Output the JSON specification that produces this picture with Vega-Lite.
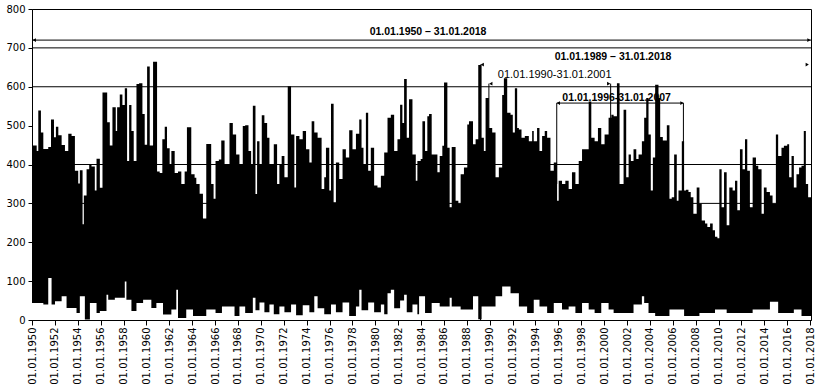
{
"$schema": "https://vega.github.io/schema/vega-lite/v6.json",
"width": 779, "height": 311,
"autosize": {"type": "none"},
"padding": {"left": 32, "top": 9, "right": 12, "bottom": 69},
"background": "white",
"config": {
  "view": {"stroke": "black", "strokeWidth": 1},
  "axis": {"domainColor": "black", "tickColor": "black", "labelColor": "black", "labelFont": "DejaVu Sans", "labelFontSize": 10, "grid": false, "zindex": 1, "domainWidth": 1, "tickWidth": 1},
  "axisX": {"labelOverlap": false, "labelFlush": false, "labelAngle": 270, "labelAlign": "right", "labelBaseline": "middle", "tickSize": 5, "labelPadding": 2, "labelBound": false},
  "axisY": {"labelOverlap": false, "tickSize": 4, "labelPadding": 3}
},
"datasets": {
  "grid": [{"v": 300}, {"v": 400}, {"v": 600}, {"v": 700}],
  "hi": [
    {"t":1950.00,"v":449},{"t":1950.41,"v":435},{"t":1950.55,"v":539},{"t":1950.78,"v":482},{"t":1950.99,"v":440},
    {"t":1951.42,"v":445},{"t":1951.66,"v":516},{"t":1951.92,"v":470},{"t":1952.09,"v":497},{"t":1952.30,"v":475},
    {"t":1952.59,"v":450},{"t":1952.88,"v":435},{"t":1953.17,"v":479},{"t":1953.46,"v":473},{"t":1953.75,"v":384},
    {"t":1954.04,"v":351},{"t":1954.18,"v":385},{"t":1954.42,"v":246},{"t":1954.53,"v":320},{"t":1954.77,"v":388},
    {"t":1955.00,"v":399},{"t":1955.20,"v":395},{"t":1955.49,"v":333},{"t":1955.64,"v":415},{"t":1955.93,"v":340},
    {"t":1956.16,"v":585},{"t":1956.57,"v":509},{"t":1956.80,"v":449},{"t":1957.03,"v":547},{"t":1957.32,"v":486},
    {"t":1957.44,"v":547},{"t":1957.67,"v":580},{"t":1957.90,"v":553},{"t":1958.11,"v":596},{"t":1958.31,"v":409},
    {"t":1958.49,"v":553},{"t":1958.69,"v":486},{"t":1958.89,"v":409},{"t":1959.13,"v":607},{"t":1959.36,"v":609},
    {"t":1959.65,"v":530},{"t":1959.85,"v":451},{"t":1960.06,"v":652},{"t":1960.29,"v":449},{"t":1960.58,"v":664},
    {"t":1960.93,"v":382},{"t":1961.16,"v":378},{"t":1961.39,"v":465},{"t":1961.60,"v":497},{"t":1961.80,"v":442},
    {"t":1962.03,"v":401},{"t":1962.18,"v":435},{"t":1962.47,"v":378},{"t":1962.76,"v":382},{"t":1963.05,"v":350},
    {"t":1963.34,"v":382},{"t":1963.54,"v":496},{"t":1963.92,"v":375},{"t":1964.21,"v":366},{"t":1964.36,"v":350},
    {"t":1964.65,"v":325},{"t":1964.94,"v":261},{"t":1965.23,"v":453},{"t":1965.66,"v":350},{"t":1965.87,"v":312},
    {"t":1966.04,"v":409},{"t":1966.33,"v":413},{"t":1966.54,"v":462},{"t":1966.83,"v":400},{"t":1967.26,"v":507},
    {"t":1967.55,"v":477},{"t":1967.84,"v":426},{"t":1968.13,"v":401},{"t":1968.42,"v":499},{"t":1968.63,"v":501},
    {"t":1968.92,"v":435},{"t":1969.15,"v":401},{"t":1969.30,"v":551},{"t":1969.53,"v":324},{"t":1969.67,"v":460},
    {"t":1969.88,"v":401},{"t":1970.08,"v":527},{"t":1970.31,"v":507},{"t":1970.55,"v":469},{"t":1970.75,"v":401},
    {"t":1971.13,"v":452},{"t":1971.42,"v":350},{"t":1971.62,"v":401},{"t":1971.82,"v":422},{"t":1972.06,"v":367},
    {"t":1972.35,"v":601},{"t":1972.64,"v":477},{"t":1972.93,"v":341},{"t":1973.08,"v":473},{"t":1973.37,"v":465},
    {"t":1973.66,"v":486},{"t":1973.95,"v":439},{"t":1974.24,"v":405},{"t":1974.44,"v":511},{"t":1974.67,"v":482},
    {"t":1974.96,"v":469},{"t":1975.31,"v":337},{"t":1975.54,"v":367},{"t":1975.69,"v":443},{"t":1975.98,"v":333},
    {"t":1976.13,"v":556},{"t":1976.36,"v":303},{"t":1976.56,"v":405},{"t":1976.85,"v":363},{"t":1977.14,"v":439},
    {"t":1977.43,"v":418},{"t":1977.72,"v":488},{"t":1978.01,"v":439},{"t":1978.31,"v":479},{"t":1978.60,"v":516},
    {"t":1978.80,"v":443},{"t":1978.97,"v":401},{"t":1979.18,"v":533},{"t":1979.38,"v":384},{"t":1979.61,"v":443},
    {"t":1979.90,"v":346},{"t":1980.19,"v":341},{"t":1980.49,"v":371},{"t":1980.78,"v":431},{"t":1981.07,"v":520},
    {"t":1981.36,"v":528},{"t":1981.65,"v":435},{"t":1981.94,"v":465},{"t":1982.17,"v":554},{"t":1982.37,"v":507},
    {"t":1982.52,"v":620},{"t":1982.75,"v":469},{"t":1982.95,"v":568},{"t":1983.25,"v":426},{"t":1983.54,"v":358},
    {"t":1983.68,"v":409},{"t":1983.97,"v":414},{"t":1984.12,"v":511},{"t":1984.35,"v":435},{"t":1984.55,"v":524},
    {"t":1984.70,"v":530},{"t":1984.93,"v":426},{"t":1985.43,"v":380},{"t":1985.63,"v":422},{"t":1985.86,"v":448},
    {"t":1986.01,"v":611},{"t":1986.30,"v":443},{"t":1986.50,"v":290},{"t":1986.68,"v":445},{"t":1987.02,"v":307},
    {"t":1987.26,"v":299},{"t":1987.46,"v":375},{"t":1987.75,"v":392},{"t":1988.04,"v":503},{"t":1988.19,"v":511},
    {"t":1988.54,"v":452},{"t":1988.77,"v":465},{"t":1989.00,"v":656},{"t":1989.29,"v":469},{"t":1989.49,"v":435},
    {"t":1989.64,"v":571},{"t":1989.93,"v":494},{"t":1990.22,"v":482},{"t":1990.51,"v":367},{"t":1990.80,"v":392},
    {"t":1991.09,"v":579},{"t":1991.24,"v":622},{"t":1991.53,"v":533},{"t":1991.82,"v":528},{"t":1992.02,"v":482},
    {"t":1992.20,"v":596},{"t":1992.40,"v":494},{"t":1992.55,"v":490},{"t":1992.78,"v":469},{"t":1993.07,"v":473},
    {"t":1993.42,"v":460},{"t":1993.71,"v":486},{"t":1993.85,"v":460},{"t":1994.14,"v":494},{"t":1994.35,"v":435},
    {"t":1994.58,"v":473},{"t":1994.81,"v":486},{"t":1995.02,"v":469},{"t":1995.31,"v":384},{"t":1995.60,"v":405},
    {"t":1995.89,"v":307},{"t":1996.03,"v":358},{"t":1996.32,"v":350},{"t":1996.61,"v":358},{"t":1996.90,"v":337},
    {"t":1997.19,"v":380},{"t":1997.49,"v":350},{"t":1997.78,"v":409},{"t":1998.07,"v":439},{"t":1998.65,"v":562},
    {"t":1998.88,"v":469},{"t":1999.17,"v":460},{"t":1999.46,"v":494},{"t":1999.75,"v":452},{"t":2000.04,"v":477},
    {"t":2000.39,"v":520},{"t":2000.63,"v":528},{"t":2000.83,"v":524},{"t":2001.12,"v":609},{"t":2001.35,"v":350},
    {"t":2001.70,"v":541},{"t":2001.93,"v":367},{"t":2002.14,"v":426},{"t":2002.34,"v":409},{"t":2002.57,"v":439},
    {"t":2002.81,"v":414},{"t":2003.01,"v":426},{"t":2003.30,"v":460},{"t":2003.50,"v":520},{"t":2003.68,"v":571},
    {"t":2003.88,"v":477},{"t":2004.08,"v":333},{"t":2004.26,"v":418},{"t":2004.46,"v":605},{"t":2004.75,"v":571},
    {"t":2004.90,"v":471},{"t":2005.13,"v":462},{"t":2005.48,"v":501},{"t":2005.71,"v":312},{"t":2005.91,"v":316},
    {"t":2006.12,"v":426},{"t":2006.35,"v":307},{"t":2006.50,"v":333},{"t":2006.79,"v":460},{"t":2006.99,"v":333},
    {"t":2007.16,"v":335},{"t":2007.37,"v":329},{"t":2007.57,"v":316},{"t":2007.80,"v":273},{"t":2008.09,"v":341},
    {"t":2008.33,"v":299},{"t":2008.53,"v":256},{"t":2008.82,"v":248},{"t":2009.02,"v":239},{"t":2009.26,"v":248},
    {"t":2009.49,"v":231},{"t":2009.69,"v":214},{"t":2009.90,"v":210},{"t":2010.07,"v":388},{"t":2010.27,"v":290},
    {"t":2010.48,"v":380},{"t":2010.71,"v":244},{"t":2010.94,"v":341},{"t":2011.23,"v":333},{"t":2011.44,"v":358},
    {"t":2011.64,"v":282},{"t":2011.87,"v":439},{"t":2012.10,"v":388},{"t":2012.31,"v":465},{"t":2012.51,"v":384},
    {"t":2012.74,"v":290},{"t":2012.98,"v":418},{"t":2013.27,"v":397},{"t":2013.47,"v":388},{"t":2013.76,"v":273},
    {"t":2013.96,"v":341},{"t":2014.20,"v":329},{"t":2014.49,"v":320},{"t":2014.72,"v":299},{"t":2015.01,"v":477},
    {"t":2015.21,"v":422},{"t":2015.50,"v":443},{"t":2015.71,"v":448},{"t":2016.00,"v":452},{"t":2016.17,"v":367},
    {"t":2016.38,"v":422},{"t":2016.58,"v":341},{"t":2016.81,"v":375},{"t":2017.04,"v":392},{"t":2017.25,"v":397},
    {"t":2017.45,"v":486},{"t":2017.63,"v":350},{"t":2017.83,"v":316},{"t":2018.08,"v":316}
  ],
  "lo": [
    {"t":1950.00,"v":44},{"t":1950.99,"v":40},{"t":1951.42,"v":108},{"t":1951.71,"v":40},{"t":1952.01,"v":48},
    {"t":1952.59,"v":61},{"t":1953.02,"v":31},{"t":1953.89,"v":18},{"t":1954.18,"v":61},{"t":1954.62,"v":1},
    {"t":1955.06,"v":44},{"t":1955.64,"v":18},{"t":1955.93,"v":23},{"t":1956.51,"v":65},{"t":1956.66,"v":52},
    {"t":1957.24,"v":57},{"t":1958.11,"v":99},{"t":1958.25,"v":52},{"t":1958.69,"v":23},{"t":1959.13,"v":44},
    {"t":1959.71,"v":52},{"t":1960.43,"v":31},{"t":1960.87,"v":44},{"t":1961.45,"v":14},{"t":1962.18,"v":27},
    {"t":1962.61,"v":78},{"t":1962.76,"v":5},{"t":1963.48,"v":27},{"t":1964.07,"v":10},{"t":1965.23,"v":27},
    {"t":1966.04,"v":18},{"t":1966.60,"v":35},{"t":1967.70,"v":10},{"t":1968.13,"v":35},{"t":1968.63,"v":18},
    {"t":1969.30,"v":57},{"t":1969.53,"v":25},{"t":1969.88,"v":45},{"t":1970.31,"v":20},{"t":1970.75,"v":40},
    {"t":1971.13,"v":15},{"t":1971.62,"v":35},{"t":1972.06,"v":20},{"t":1972.64,"v":40},{"t":1973.08,"v":12},
    {"t":1973.66,"v":38},{"t":1974.24,"v":20},{"t":1974.67,"v":61},{"t":1974.96,"v":30},{"t":1975.54,"v":15},
    {"t":1976.13,"v":40},{"t":1976.56,"v":20},{"t":1977.14,"v":45},{"t":1977.72,"v":10},{"t":1978.31,"v":35},
    {"t":1978.60,"v":78},{"t":1978.80,"v":25},{"t":1979.38,"v":45},{"t":1979.90,"v":20},{"t":1980.49,"v":40},
    {"t":1980.78,"v":15},{"t":1981.07,"v":69},{"t":1981.36,"v":78},{"t":1981.65,"v":30},{"t":1982.17,"v":50},
    {"t":1982.52,"v":65},{"t":1982.75,"v":20},{"t":1983.25,"v":40},{"t":1983.68,"v":15},{"t":1983.83,"v":61},
    {"t":1984.35,"v":18},{"t":1984.93,"v":44},{"t":1985.63,"v":35},{"t":1986.50,"v":57},{"t":1986.68,"v":35},
    {"t":1987.46,"v":27},{"t":1988.54,"v":61},{"t":1989.00,"v":2},{"t":1989.29,"v":35},{"t":1990.51,"v":61},
    {"t":1991.09,"v":86},{"t":1991.82,"v":69},{"t":1992.55,"v":35},{"t":1993.27,"v":18},{"t":1993.85,"v":52},
    {"t":1994.35,"v":35},{"t":1995.02,"v":18},{"t":1995.60,"v":44},{"t":1996.32,"v":27},{"t":1996.90,"v":35},
    {"t":1997.49,"v":18},{"t":1998.07,"v":44},{"t":1998.65,"v":27},{"t":1999.17,"v":18},{"t":1999.75,"v":44},
    {"t":2000.39,"v":27},{"t":2000.83,"v":18},{"t":2002.57,"v":40},{"t":2003.30,"v":61},{"t":2003.50,"v":44},
    {"t":2003.88,"v":18},{"t":2004.46,"v":10},{"t":2005.71,"v":27},{"t":2006.99,"v":10},{"t":2008.33,"v":18},
    {"t":2009.69,"v":27},{"t":2010.71,"v":18},{"t":2012.98,"v":27},{"t":2014.49,"v":47},{"t":2015.21,"v":18},
    {"t":2016.58,"v":27},{"t":2017.25,"v":10},{"t":2018.08,"v":10}
  ],
  "segments": [
    {"t":1950.0,"t2":2018.08,"v":720,"v2":720},
    {"t":1995.86,"t2":2006.93,"v":558,"v2":558},
    {"t":1995.86,"t2":1995.86,"v":558,"v2":350},
    {"t":2006.93,"t2":2006.93,"v":558,"v2":400},
    {"t":1989.93,"t2":1989.93,"v":608,"v2":450},
    {"t":2000.57,"t2":2000.57,"v":608,"v2":450},
    {"t":1989.2,"t2":1989.2,"v":657,"v2":0}
  ],
  "arrows": [
    {"t":1950.2,"v":720,"dir":"L"},{"t":2017.9,"v":720,"dir":"R"},
    {"t":1989.35,"v":657,"dir":"L"},{"t":2017.75,"v":657,"dir":"R"},
    {"t":1990.1,"v":608,"dir":"L"},{"t":2000.4,"v":608,"dir":"R"},
    {"t":1996.0,"v":558,"dir":"L"},{"t":2006.8,"v":558,"dir":"R"}
  ],
  "labels": [
    {"t":1984.61,"v":740,"label":"01.01.1950 – 31.01.2018","w":"bold"},
    {"t":2000.78,"v":676,"label":"01.01.1989 – 31.01.2018","w":"bold"},
    {"t":1995.68,"v":630,"label":"01.01.1990-31.01.2001","w":"normal"},
    {"t":2001.09,"v":572,"label":"01.01.1996-31.01.2007","w":"bold"}
  ]
},
"layer": [
  {
    "data": {"name": "grid"},
    "mark": {"type": "rule", "color": "black", "strokeWidth": 1},
    "encoding": {
      "y": {"field": "v", "type": "quantitative", "title": null,
        "scale": {"domain": [0, 800], "nice": false},
        "axis": {"values": [0,100,200,300,400,500,600,700,800], "tickCount": 20, "format": "d"}}
    }
  },
  {
    "data": {"name": "hi"},
    "mark": {"type": "area", "interpolate": "step-after", "color": "black", "opacity": 1},
    "encoding": {
      "x": {"field": "t", "type": "quantitative", "title": null,
        "scale": {"domain": [1950, 2018.08], "nice": false, "zero": false},
        "axis": {"values": [1950,1952,1954,1956,1958,1960,1962,1964,1966,1968,1970,1972,1974,1976,1978,1980,1982,1984,1986,1988,1990,1992,1994,1996,1998,2000,2002,2004,2006,2008,2010,2012,2014,2016,2018],
          "tickCount": 80, "labelExpr": "'01.01.' + datum.value", "labelOverlap": false}},
      "y": {"field": "v", "type": "quantitative", "title": null}
    }
  },
  {
    "data": {"name": "lo"},
    "mark": {"type": "area", "interpolate": "step-after", "color": "white", "opacity": 1},
    "encoding": {
      "x": {"field": "t", "type": "quantitative", "title": null},
      "y": {"field": "v", "type": "quantitative", "title": null}
    }
  },
  {
    "data": {"name": "segments"},
    "mark": {"type": "rule", "color": "black", "strokeWidth": 1},
    "encoding": {
      "x": {"field": "t", "type": "quantitative", "title": null},
      "x2": {"field": "t2"},
      "y": {"field": "v", "type": "quantitative", "title": null},
      "y2": {"field": "v2"}
    }
  },
  {
    "data": {"name": "arrows"},
    "mark": {"type": "point", "filled": true, "color": "black", "size": 14, "opacity": 1},
    "encoding": {
      "x": {"field": "t", "type": "quantitative", "title": null},
      "y": {"field": "v", "type": "quantitative", "title": null},
      "shape": {"field": "dir", "type": "nominal", "legend": null, "scale": {"domain": ["L","R"], "range": ["triangle-left","triangle-right"]}}
    }
  },
  {
    "data": {"name": "labels"},
    "transform": [{"filter": "datum.w == 'bold'"}],
    "mark": {"type": "text", "font": "Liberation Sans", "fontWeight": "bold", "fontSize": 10.5, "align": "center", "baseline": "middle", "color": "black"},
    "encoding": {
      "x": {"field": "t", "type": "quantitative", "title": null},
      "y": {"field": "v", "type": "quantitative", "title": null},
      "text": {"field": "label"}
    }
  },
  {
    "data": {"name": "labels"},
    "transform": [{"filter": "datum.w == 'normal'"}],
    "mark": {"type": "text", "font": "Liberation Sans", "fontSize": 11, "align": "center", "baseline": "middle", "color": "black"},
    "encoding": {
      "x": {"field": "t", "type": "quantitative", "title": null},
      "y": {"field": "v", "type": "quantitative", "title": null},
      "text": {"field": "label"}
    }
  }
]
}
